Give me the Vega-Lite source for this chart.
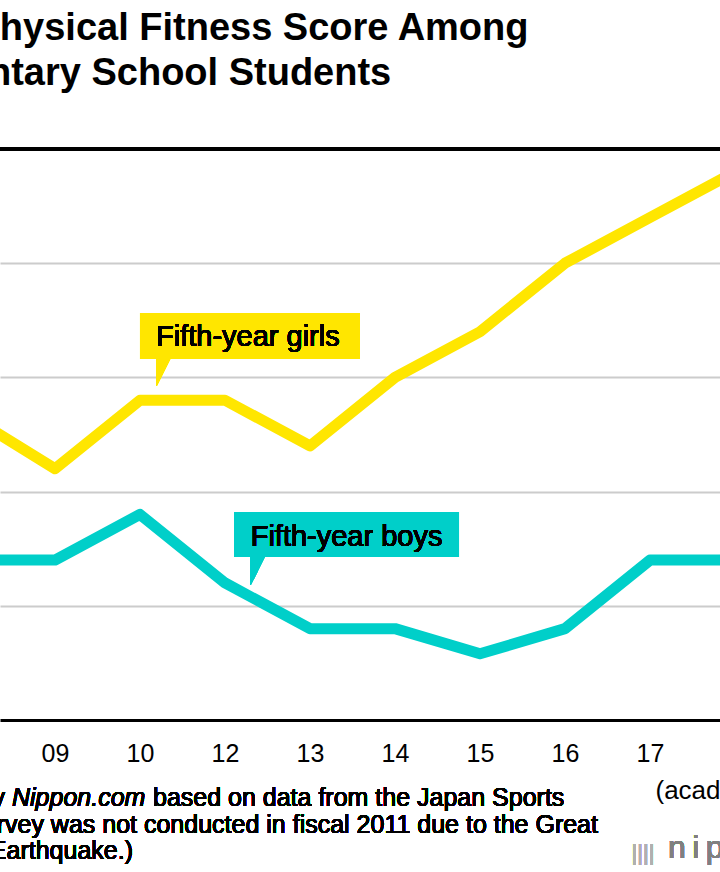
{
  "$schema": "https://vega.github.io/schema/vega-lite/v6.json",
  "width": 720,
  "height": 571,
  "autosize": "none",
  "padding": {"left": 0, "top": 149, "right": 0, "bottom": 152},
  "background": "white",
  "config": {
    "view": {"stroke": null},
    "font": "Liberation Sans",
    "text": {"font": "Liberation Sans"}
  },
  "title": {
    "text": ["Total Physical Fitness Score Among", "Elementary School Students"],
    "anchor": "start",
    "frame": "group",
    "dx": -124,
    "fontSize": 38,
    "fontWeight": "bold",
    "font": "Liberation Sans",
    "color": "#000000",
    "lineHeight": 45,
    "baseline": "bottom",
    "offset": 17
  },
  "datasets": {
    "scores": [
      {"year": "08", "idx": 0, "group": "girls", "score": 54.83},
      {"year": "09", "idx": 1, "group": "girls", "score": 54.60},
      {"year": "10", "idx": 2, "group": "girls", "score": 54.90},
      {"year": "12", "idx": 3, "group": "girls", "score": 54.90},
      {"year": "13", "idx": 4, "group": "girls", "score": 54.70},
      {"year": "14", "idx": 5, "group": "girls", "score": 55.00},
      {"year": "15", "idx": 6, "group": "girls", "score": 55.20},
      {"year": "16", "idx": 7, "group": "girls", "score": 55.50},
      {"year": "17", "idx": 8, "group": "girls", "score": 55.70},
      {"year": "18", "idx": 9, "group": "girls", "score": 55.90},
      {"year": "08", "idx": 0, "group": "boys", "score": 54.20},
      {"year": "09", "idx": 1, "group": "boys", "score": 54.20},
      {"year": "10", "idx": 2, "group": "boys", "score": 54.40},
      {"year": "12", "idx": 3, "group": "boys", "score": 54.10},
      {"year": "13", "idx": 4, "group": "boys", "score": 53.90},
      {"year": "14", "idx": 5, "group": "boys", "score": 53.90},
      {"year": "15", "idx": 6, "group": "boys", "score": 53.79},
      {"year": "16", "idx": 7, "group": "boys", "score": 53.90},
      {"year": "17", "idx": 8, "group": "boys", "score": 54.20},
      {"year": "18", "idx": 9, "group": "boys", "score": 54.20}
    ]
  },
  "data": {"name": "scores"},
  "encoding": {
    "x": {
      "field": "idx",
      "type": "quantitative",
      "scale": {"domain": [0.353, 8.8235], "nice": false, "zero": false},
      "axis": {
        "values": [0, 1, 2, 3, 4, 5, 6, 7, 8, 9],
        "labelExpr": "['08','09','10','12','13','14','15','16','17','18'][datum.value]",
        "grid": false,
        "ticks": false,
        "tickSize": 0,
        "domain": true,
        "domainColor": "#000000",
        "domainWidth": 3,
        "labelFont": "Liberation Sans",
        "labelFontSize": 25,
        "labelColor": "#000000",
        "labelBaseline": "alphabetic",
        "labelPadding": 41,
        "labelFlush": false,
        "labelOverlap": false,
        "title": "(academic year)",
        "titleFont": "Liberation Sans",
        "titleFontSize": 26,
        "titleFontWeight": "normal",
        "titleColor": "#000000",
        "titleAnchor": "start",
        "titleAlign": "left",
        "titleBaseline": "alphabetic",
        "titleX": 655,
        "titleY": 78
      }
    },
    "y": {
      "field": "score",
      "type": "quantitative",
      "scale": {"domain": [53.5, 56], "nice": false, "zero": false},
      "axis": {
        "values": [54, 54.5, 55, 55.5],
        "grid": true,
        "gridColor": "#cccccc",
        "gridWidth": 2,
        "labels": false,
        "ticks": false,
        "domain": false,
        "title": null
      }
    }
  },
  "layer": [
    {
      "mark": {"type": "rule", "stroke": "#000000", "strokeWidth": 3},
      "encoding": {"y": {"datum": 56}, "x": {"datum": 0.353}, "x2": {"datum": 8.8235}}
    },
    {
      "mark": {"type": "line", "strokeWidth": 11, "strokeJoin": "round", "clip": true},
      "encoding": {
        "color": {
          "field": "group",
          "type": "nominal",
          "scale": {"domain": ["girls", "boys"], "range": ["#FFE600", "#00CFC9"]},
          "legend": null
        }
      }
    },
    {
      "mark": {"type": "rect", "fill": "#FFE600", "strokeWidth": 0},
      "encoding": {"x": {"datum": 2.0}, "x2": {"datum": 4.588}, "y": {"datum": 55.282}, "y2": {"datum": 55.081}}
    },
    {
      "mark": {"type": "point", "shape": "M0,-1L1,-1L0,1Z", "size": 729, "filled": true, "opacity": 1, "fill": "#FFE600", "strokeWidth": 0},
      "encoding": {"x": {"datum": 2.196}, "y": {"datum": 55.0215}}
    },
    {
      "mark": {"type": "text", "align": "left", "baseline": "alphabetic", "fontSize": 29, "fill": "#000000", "strokeWidth": 0, "font": "Liberation Sans", "fontWeight": "normal"},
      "encoding": {"x": {"datum": 2.188}, "y": {"datum": 55.1375}, "text": {"value": "Fifth-year girls"}}
    },
    {
      "mark": {"type": "rect", "fill": "#00CFC9", "strokeWidth": 0},
      "encoding": {"x": {"datum": 3.106}, "x2": {"datum": 5.753}, "y": {"datum": 54.411}, "y2": {"datum": 54.214}}
    },
    {
      "mark": {"type": "point", "shape": "M0,-1L1,-1L0,1Z", "size": 784, "filled": true, "opacity": 1, "fill": "#00CFC9", "strokeWidth": 0},
      "encoding": {"x": {"datum": 3.302}, "y": {"datum": 54.152}}
    },
    {
      "mark": {"type": "text", "align": "left", "baseline": "alphabetic", "fontSize": 29, "fill": "#000000", "strokeWidth": 0, "font": "Liberation Sans", "fontWeight": "normal"},
      "encoding": {"x": {"datum": 3.302}, "y": {"datum": 54.262}, "text": {"value": "Fifth-year boys"}}
    },
    {
      "mark": {"type": "text", "align": "right", "baseline": "alphabetic", "fontSize": 25, "fill": "#000000", "strokeWidth": 0, "font": "Liberation Sans", "fontWeight": "normal"},
      "encoding": {"x": {"datum": 0.4118}, "y": {"datum": 53.1235}, "text": {"value": "Created by"}}
    },
    {
      "mark": {"type": "text", "align": "left", "baseline": "alphabetic", "fontSize": 25, "fontStyle": "italic", "fill": "#000000", "strokeWidth": 0, "font": "Liberation Sans", "fontWeight": "normal"},
      "encoding": {"x": {"datum": 0.4941}, "y": {"datum": 53.1235}, "text": {"value": "Nippon.com"}}
    },
    {
      "mark": {"type": "text", "align": "left", "baseline": "alphabetic", "fontSize": 25, "fill": "#000000", "strokeWidth": 0, "font": "Liberation Sans", "fontWeight": "normal"},
      "encoding": {"x": {"datum": 2.1529}, "y": {"datum": 53.1235}, "text": {"value": "based on data from the Japan Sports"}}
    },
    {
      "mark": {"type": "text", "align": "right", "baseline": "alphabetic", "fontSize": 25, "fill": "#000000", "strokeWidth": 0, "font": "Liberation Sans", "fontWeight": "normal"},
      "encoding": {"x": {"datum": 7.388}, "y": {"datum": 53.0053}, "text": {"value": "Agency. (The survey was not conducted in fiscal 2011 due to the Great"}}
    },
    {
      "mark": {"type": "text", "align": "right", "baseline": "alphabetic", "fontSize": 25, "fill": "#000000", "strokeWidth": 0, "font": "Liberation Sans", "fontWeight": "normal"},
      "encoding": {"x": {"datum": 1.9176}, "y": {"datum": 52.8915}, "text": {"value": "East Japan Earthquake.)"}}
    },
    {
      "mark": {"type": "text", "align": "center", "baseline": "alphabetic", "fontSize": 22, "fill": "#b0b0b0", "strokeWidth": 0, "font": "Liberation Sans", "fontWeight": "normal"},
      "encoding": {"x": {"datum": 7.918}, "y": {"datum": 52.887}, "text": {"value": "||||"}}
    },
    {
      "mark": {"type": "text", "align": "left", "baseline": "alphabetic", "fontSize": 32, "fill": "#808080", "strokeWidth": 0, "font": "Liberation Sans", "fontWeight": "normal"},
      "encoding": {"x": {"datum": 8.212}, "y": {"datum": 52.896}, "text": {"value": "n\u2009i\u2009p\u2009p\u2009o\u2009n\u2009.\u2009c\u2009o\u2009m"}}
    }
  ]
}
